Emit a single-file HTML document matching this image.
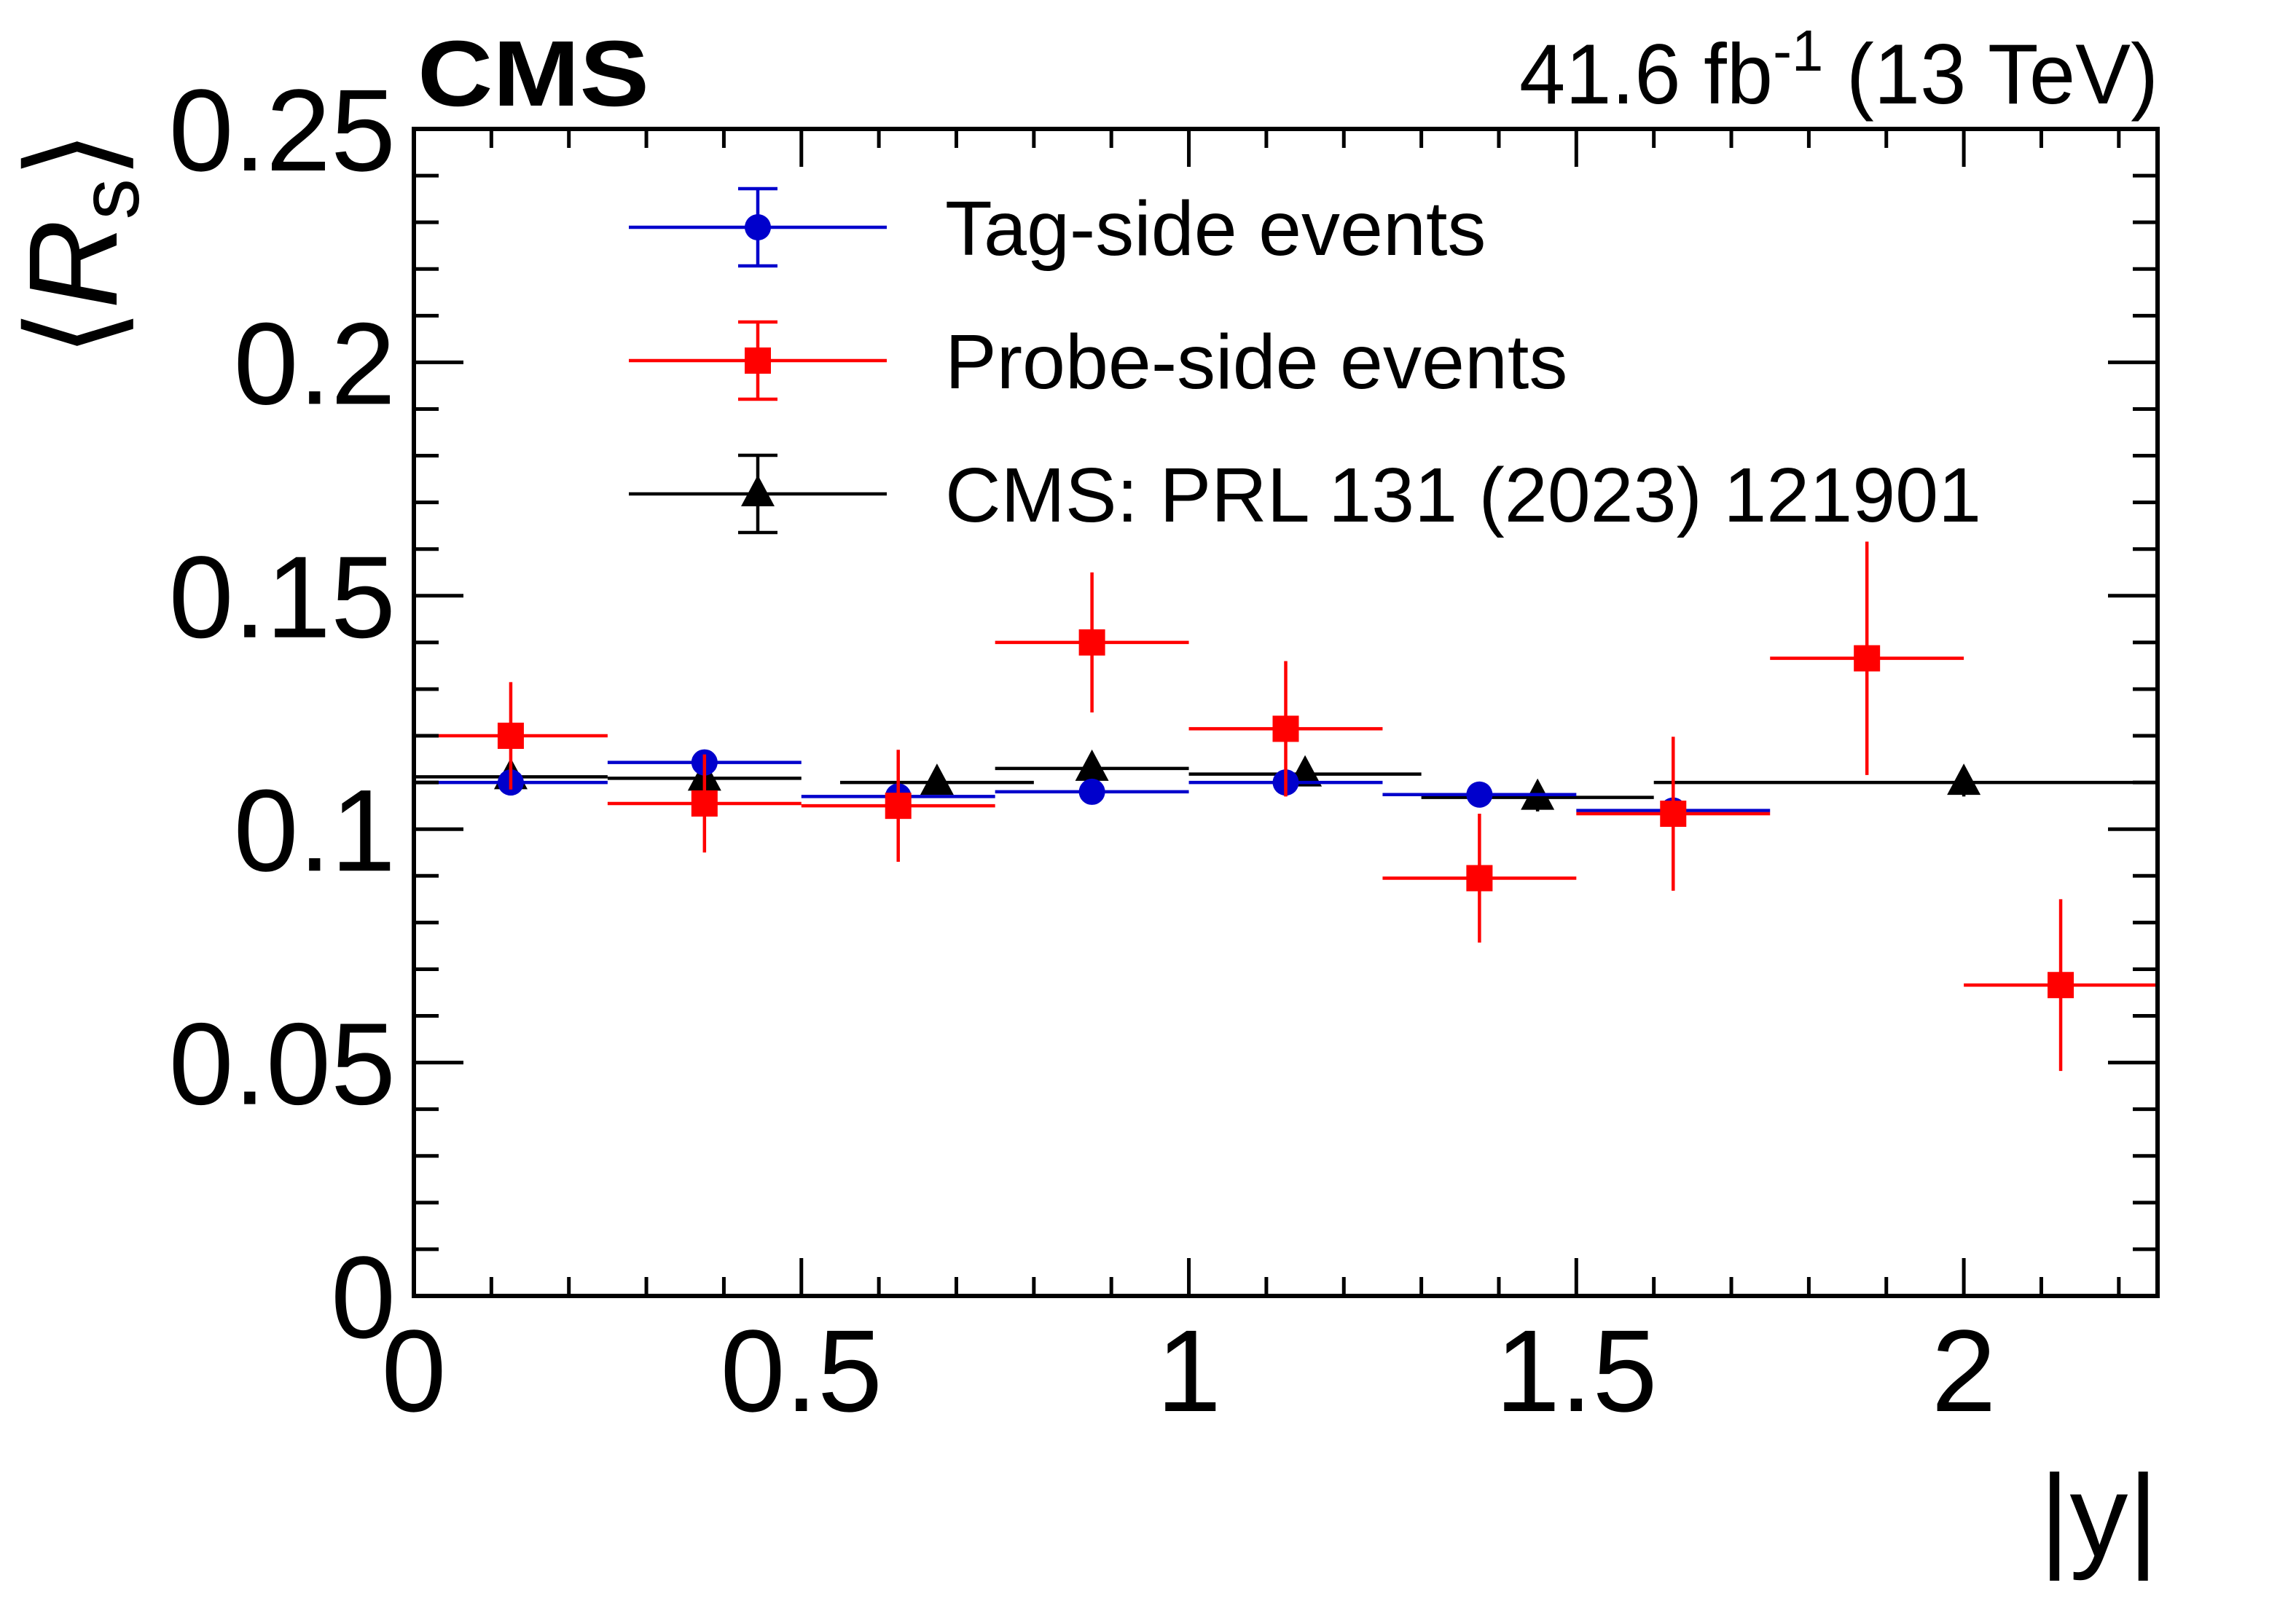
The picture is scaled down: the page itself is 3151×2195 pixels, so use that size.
<!DOCTYPE html>
<html><head><meta charset="utf-8"><style>html,body{margin:0;padding:0;background:#fff}svg{display:block}</style></head>
<body>
<svg id="chart" width="3151" height="2195" viewBox="0 0 3151 2195" xmlns="http://www.w3.org/2000/svg" font-family="'Liberation Sans', Arial, sans-serif">
<rect width="3151" height="2195" fill="#fff"/>
<g id="marks"></g>
<rect x="568" y="177" width="2393" height="1602" fill="none" stroke="#000" stroke-width="6"/>
<g id="ticks"></g>
<text x="573" y="145" font-size="128" font-weight="bold" textLength="318" lengthAdjust="spacingAndGlyphs">CMS</text>
<text x="2085" y="142" font-size="117" textLength="877" lengthAdjust="spacingAndGlyphs">41.6 fb<tspan dy="-45" font-size="80">-1</tspan><tspan dy="45"> (13 TeV)</tspan></text>
<text x="2962" y="2136" font-size="160" text-anchor="end">|y|</text>
<g transform="translate(160,490) rotate(-90)">
<text x="0" y="0" font-size="173" font-family="'DejaVu Sans','Liberation Sans',sans-serif" textLength="311" lengthAdjust="spacingAndGlyphs">⟨<tspan font-family="'Liberation Sans',sans-serif" font-style="italic">R</tspan><tspan font-family="'Liberation Sans',sans-serif" font-size="115" dy="30">s</tspan><tspan dy="-30">⟩</tspan></text>
</g>
<g id="legend"></g>
</svg>
<script>
const ns="http://www.w3.org/2000/svg";
// data
const tagXlo=[0,0.25,0.5,0.75,1.0,1.25,1.5];
const tagXhi=[0.25,0.5,0.75,1.0,1.25,1.5,1.75];
const tagX=[0.125,0.375,0.625,0.875,1.125,1.375,1.625];
const tagY=[0.110,0.1143,0.107,0.108,0.110,0.1074,0.104];
const tagErr=[0.001,0.001,0.001,0.001,0.001,0.001,0.001];
const probeXlo=[0,0.25,0.5,0.75,1.0,1.25,1.5,1.75,2.0];
const probeXhi=[0.25,0.5,0.75,1.0,1.25,1.5,1.75,2.0,2.25];
const probeX=[0.125,0.375,0.625,0.875,1.125,1.375,1.625,1.875,2.125];
const probeY=[0.120,0.1055,0.105,0.140,0.1215,0.0895,0.1033,0.1366,0.0666];
const probeErr=[0.0115,0.0105,0.012,0.015,0.0145,0.0138,0.0165,0.025,0.0184];
const prlXlo=[0,0.25,0.55,0.75,1.0,1.3,1.6];
const prlXhi=[0.25,0.5,0.8,1.0,1.3,1.6,2.25];
const prlX=[0.125,0.375,0.675,0.875,1.15,1.45,2.0];
const prlY=[0.1112,0.1109,0.110,0.113,0.1118,0.1068,0.110];
const prlErr=[0.002,0.002,0.002,0.003,0.0025,0.003,0.003];
const xTickLabels=["0","0.5","1","1.5","2"];
const yTickLabels=["0","0.05","0.1","0.15","0.2","0.25"];
const legendLabels=["Tag-side events","Probe-side events","CMS: PRL 131 (2023) 121901"];

const L=568,R=2961,T=177,B=1779,XMAX=2.25,YMAX=0.25;
const X=v=>L+v*(R-L)/XMAX;
const Y=v=>B-v*(B-T)/YMAX;
function mk(tag,attrs,parent){const e=document.createElementNS(ns,tag);for(const k in attrs)e.setAttribute(k,attrs[k]);parent.appendChild(e);return e;}
const marks=document.getElementById('marks');
const ticks=document.getElementById('ticks');
const legend=document.getElementById('legend');

function marker(kind,cx,cy,col,g){
  let m;
  if(kind==='circle')m=mk('circle',{cx:cx,cy:cy,r:18,fill:col},g);
  else if(kind==='square')m=mk('rect',{x:cx-18,y:cy-18,width:36,height:36,fill:col},g);
  else m=mk('polygon',{points:`${cx},${cy-26} ${cx+23},${cy+17} ${cx-23},${cy+17}`,fill:col},g);
  return m;
}
function series(name,xlo,xhi,xs,ys,es,col,kind){
  const g=mk('g',{},marks);
  
  
  for(let i=0;i<xs.length;i++){
    const p=mk('g',{},g);
    
    
    mk('line',{x1:X(xlo[i]),x2:X(xhi[i]),y1:Y(ys[i]),y2:Y(ys[i]),stroke:col,'stroke-width':4.5},p);
    mk('line',{x1:X(xs[i]),x2:X(xs[i]),y1:Y(ys[i]-es[i]),y2:Y(ys[i]+es[i]),stroke:col,'stroke-width':4.5},p);
    marker(kind,X(xs[i]),Y(ys[i]),col,p);
  }
}
series('prl',prlXlo,prlXhi,prlX,prlY,prlErr,'#000','tri');
series('tag',tagXlo,tagXhi,tagX,tagY,tagErr,'#0000cc','circle');
series('probe',probeXlo,probeXhi,probeX,probeY,probeErr,'#ff0000','square');

// ticks
for(let k=0;k<=22;k++){
  const v=k*0.1; if(v>XMAX+1e-9)break;
  const major=Math.abs(v/0.5-Math.round(v/0.5))<1e-6;
  const len=major?52:26;
  const t1=mk('line',{x1:X(v),x2:X(v),y1:B,y2:B-len,stroke:'#000','stroke-width':5},ticks);
  
  
  mk('line',{x1:X(v),x2:X(v),y1:T,y2:T+len,stroke:'#000','stroke-width':5},ticks);
}
for(let k=0;k<=25;k++){
  const v=k*0.01;
  const major=k%5===0;
  const len=major?68:34;
  const t1=mk('line',{x1:L,x2:L+len,y1:Y(v),y2:Y(v),stroke:'#000','stroke-width':5},ticks);
  
  
  mk('line',{x1:R,x2:R-len,y1:Y(v),y2:Y(v),stroke:'#000','stroke-width':5},ticks);
}
xTickLabels.forEach((s,i)=>{
  const t=mk('text',{x:X(i*0.5),y:1937,'font-size':160,'text-anchor':'middle'},ticks);
  
  
  t.textContent=s;
});
yTickLabels.forEach((s,i)=>{
  const t=mk('text',{x:543,y:Y(i*0.05)+57,'font-size':160,'text-anchor':'end'},ticks);
  
  
  t.textContent=s;
});
// legend
const legCols=['#0000cc','#ff0000','#000'];
const legKinds=['circle','square','tri'];
const legRows=[312,495,678];
legendLabels.forEach((s,i)=>{
  const g=mk('g',{},legend);
  
  
  const y=legRows[i],c=legCols[i],cx=1040;
  mk('line',{x1:863,x2:1217,y1:y,y2:y,stroke:c,'stroke-width':4.5},g);
  mk('line',{x1:cx,x2:cx,y1:y-53,y2:y+53,stroke:c,'stroke-width':4.5},g);
  mk('line',{x1:cx-27,x2:cx+27,y1:y-53,y2:y-53,stroke:c,'stroke-width':4.5},g);
  mk('line',{x1:cx-27,x2:cx+27,y1:y+53,y2:y+53,stroke:c,'stroke-width':4.5},g);
  marker(legKinds[i],cx,y,c,g);
  const t=mk('text',{x:1297,y:y+38,'font-size':106},g);
  t.textContent=s;
});
</script>
</body></html>
